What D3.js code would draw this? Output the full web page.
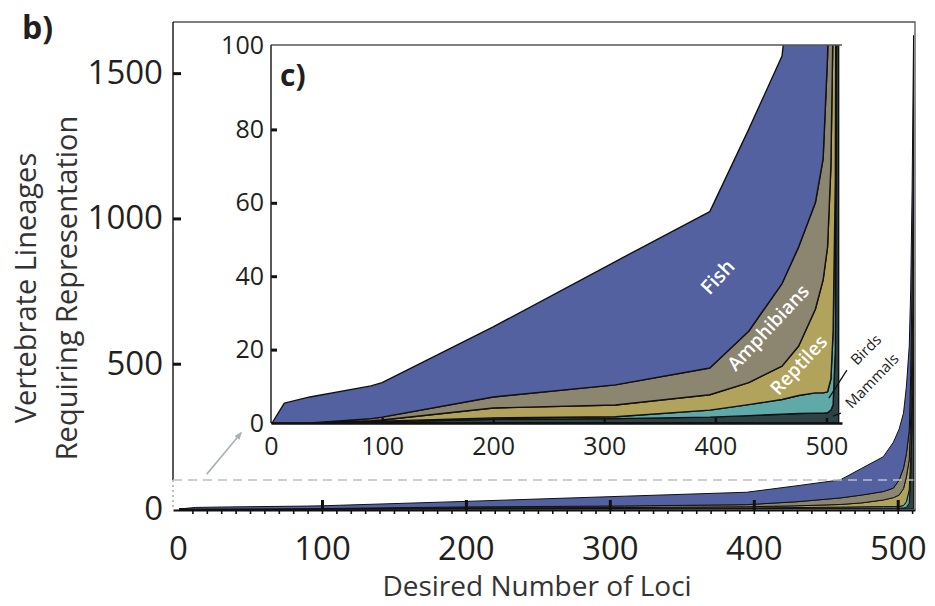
<!DOCTYPE html>
<html>
<head>
<meta charset="utf-8">
<script src="https://cdn.jsdelivr.net/npm/d3@7"></script>
<style>
body { margin: 0; background: #fff; }
svg text { font-family: "Open Sans", "Noto Sans", sans-serif; }
</style>
</head>
<body>
<svg width="935" height="606"></svg>
<script>
// desired number of loci (x) and lineages needed per group at each step
const loci       = [1, 12, 35, 90, 100, 200, 310, 395, 430, 460, 475, 490, 497, 501, 504, 506, 508, 509, 510, 511];
const mammals    = [0, 0, 0, 0.1, 0.3, 1.0, 1.2, 1.6, 2.0, 2.4, 2.6, 2.7, 2.7, 2.8, 3.5, 5, 20, 110, 300, 600];
const birds      = [0, 0, 0, 0.2, 0.2, 0.4, 0.5, 1.9, 3.0, 4.0, 4.9, 5.5, 5.5, 5.7, 8.5, 20, 46, 70, 100, 60];
const reptiles   = [0, 0, 0, 0.3, 0.3, 2.7, 3.2, 4.2, 6.0, 9.1, 13.5, 22.8, 30.8, 39.5, 58, 85, 104, 130, 150, 190];
const amphibians = [0, 0, 0, 0.6, 0.8, 3.0, 5.5, 7.3, 14, 22.5, 27, 29, 33, 52, 70, 80, 100, 150, 230, 350];
const fish       = [0, 5.4, 7.1, 8.9, 9.4, 19.1, 33.6, 42.6, 55, 62, 92, 120, 158, 175, 190, 230, 290, 290, 320, 430];

const groups = ['Mammals', 'Birds', 'Reptiles', 'Amphibians', 'Fish'];
const colors = ['#2f4346', '#5fa9a8', '#b1a25c', '#8c8670', '#5461a0'];

const mainTicksY = [0, 500, 1000, 1500];
const mainTicksX = [0, 100, 200, 300, 400, 500];
const insetTicksY = [0, 20, 40, 60, 80];
const insetTopLabel = 100;
const insetTicksX = [0, 100, 200, 300, 400, 500];

const rows = loci.map((x, i) => ({
    loci: x,
    Mammals: mammals[i],
    Birds: birds[i],
    Reptiles: reptiles[i],
    Amphibians: amphibians[i],
    Fish: fish[i]
}));
const series = d3.stack().keys(groups)(rows);

const svg = d3.select('svg');
const ink = '#231f20';
const plain = d3.format('d');

// scales for the big chart (b) and the zoomed inset (c)
const xMain = d3.scaleLinear().domain([-3.5, 512]).range([173, 915]);
const yMain = d3.scaleLinear().domain([0, 1676]).range([509, 22]);
const xIn = d3.scaleLinear().domain([0, 514]).range([271, 842]);
const yIn = d3.scaleLinear().domain([0, 103]).range([423, 45]);

const defs = svg.append('defs');
const addClip = (id, x, y) => {
    defs.append('clipPath').attr('id', id).append('rect')
        .attr('x', x.range()[0])
        .attr('y', y.range()[1])
        .attr('width', x.range()[1] - x.range()[0])
        .attr('height', y.range()[0] - y.range()[1] + 1);
};
addClip('clip-main', xMain, yMain);
addClip('clip-inset', xIn, yIn);

defs.append('marker')
    .attr('id', 'arrow')
    .attr('viewBox', '0 0 10 10')
    .attr('refX', 8).attr('refY', 5)
    .attr('markerWidth', 5).attr('markerHeight', 5)
    .attr('orient', 'auto')
  .append('path')
    .attr('d', 'M0,1 L10,5 L0,9 z')
    .attr('fill', '#a9b1b8');

const drawLayers = (g, x, y, strokeWidth) => {
    const area = d3.area()
        .x(d => x(d.data.loci))
        .y0(d => y(d[0]))
        .y1(d => y(d[1]));
    g.selectAll('path.layer').data(series)
        .enter().append('path')
            .attr('class', 'layer')
            .attr('d', area)
            .attr('fill', (d, i) => colors[i])
            .attr('stroke', '#111')
            .attr('stroke-width', strokeWidth)
            .attr('stroke-linejoin', 'round');
};

//START OF MAIN CHART
const mainG = svg.append('g');
drawLayers(mainG.append('g').attr('clip-path', 'url(#clip-main)'), xMain, yMain, 1);

// frame top + right
mainG.append('path')
    .attr('d', `M${xMain.range()[0]},${yMain.range()[1]}H${xMain.range()[1]}V${yMain(0) + 1}`)
    .attr('fill', 'none')
    .attr('stroke', '#555')
    .attr('stroke-width', 1.3);

// left axis line: dark above the zoom window, dotted inside it
mainG.append('line')
    .attr('x1', xMain.range()[0]).attr('x2', xMain.range()[0])
    .attr('y1', yMain.range()[1]).attr('y2', yMain(100))
    .attr('stroke', '#222').attr('stroke-width', 1.5);
mainG.append('line')
    .attr('x1', xMain.range()[0]).attr('x2', xMain.range()[0])
    .attr('y1', yMain(100)).attr('y2', yMain(0) + 1)
    .attr('stroke', '#aaa').attr('stroke-width', 1.5)
    .attr('stroke-dasharray', '2,3');

// dashed outline of the zoom window
mainG.append('line')
    .attr('x1', xMain.range()[0]).attr('x2', xMain(511))
    .attr('y1', yMain(100)).attr('y2', yMain(100))
    .attr('stroke', '#b9c0c6')
    .attr('stroke-width', 1.5)
    .attr('stroke-dasharray', '9,6');

const yAxisMain = d3.axisLeft(yMain)
    .tickValues(mainTicksY)
    .tickFormat(plain)
    .tickSizeInner(-8)
    .tickSizeOuter(0)
    .tickPadding(10);
const yAxisMainG = mainG.append('g')
    .attr('transform', `translate(${xMain.range()[0]},0)`)
    .call(yAxisMain);
yAxisMainG.select('.domain').remove();
yAxisMainG.selectAll('line')
    .attr('stroke', '#111').attr('stroke-width', 3)
    .filter(d => d === 0).remove();
yAxisMainG.selectAll('text')
    .attr('font-size', 33).attr('fill', ink);

// minor ticks every 10 loci
const minorAxis = d3.axisBottom(xMain)
    .tickValues(d3.range(10, 511, 10))
    .tickSize(4)
    .tickFormat('');
const minorG = mainG.append('g')
    .attr('transform', `translate(0,${yMain(0) + 1})`)
    .call(minorAxis);
minorG.select('.domain').remove();
minorG.selectAll('line').attr('stroke', '#111').attr('stroke-width', 1.6);

const xAxisMain = d3.axisBottom(xMain)
    .tickValues(mainTicksX)
    .tickFormat(plain)
    .tickSizeInner(-10)
    .tickSizeOuter(0)
    .tickPadding(27);
const xAxisMainG = mainG.append('g')
    .attr('transform', `translate(0,${yMain(0) + 1})`)
    .call(xAxisMain);
xAxisMainG.select('.domain')
    .attr('stroke', '#111').attr('stroke-width', 2);
xAxisMainG.selectAll('line')
    .attr('stroke', '#111').attr('stroke-width', 3)
    .filter(d => d === 0).remove();
xAxisMainG.selectAll('text')
    .attr('font-size', 33).attr('fill', ink);

// arrow pointing at the inset
mainG.append('line')
    .attr('x1', xMain(20)).attr('y1', yMain(120))
    .attr('x2', xIn(0) - 30).attr('y2', yIn(0) + 10)
    .attr('stroke', '#a9b1b8')
    .attr('stroke-width', 1.6)
    .attr('marker-end', 'url(#arrow)');

svg.append('text')
    .attr('x', 22).attr('y', 39)
    .attr('font-size', 32).attr('font-weight', 700).attr('fill', ink)
    .text('b)');

const yTitle = svg.append('g').attr('fill', '#333').attr('font-size', 29);
yTitle.append('text')
    .attr('transform', 'translate(36,288) rotate(-90)')
    .attr('text-anchor', 'middle')
    .text('Vertebrate Lineages');
yTitle.append('text')
    .attr('transform', 'translate(77,288) rotate(-90)')
    .attr('text-anchor', 'middle')
    .text('Requiring Representation');

svg.append('text')
    .attr('x', 537).attr('y', 596)
    .attr('text-anchor', 'middle')
    .attr('font-size', 28).attr('fill', '#333')
    .text('Desired Number of Loci');
//END OF MAIN CHART

//START OF INSET
const inset = svg.append('g');
inset.append('rect')
    .attr('x', xIn.range()[0]).attr('y', yIn.range()[1])
    .attr('width', xIn.range()[1] - xIn.range()[0])
    .attr('height', yIn.range()[0] - yIn.range()[1])
    .attr('fill', '#fff');
drawLayers(inset.append('g').attr('clip-path', 'url(#clip-inset)'), xIn, yIn, 1.4);

inset.append('line')
    .attr('x1', xIn.range()[0]).attr('x2', xIn.range()[1])
    .attr('y1', yIn.range()[1]).attr('y2', yIn.range()[1])
    .attr('stroke', '#555').attr('stroke-width', 1.5);

const yAxisIn = d3.axisLeft(yIn)
    .tickValues(insetTicksY)
    .tickSizeInner(-6)
    .tickSizeOuter(0)
    .tickPadding(7);
const yAxisInG = inset.append('g')
    .attr('transform', `translate(${xIn.range()[0]},0)`)
    .call(yAxisIn);
yAxisInG.select('.domain').remove();
yAxisInG.selectAll('line')
    .attr('stroke', '#111').attr('stroke-width', 3)
    .filter(d => d === 0).remove();
yAxisInG.selectAll('text')
    .attr('font-size', 25).attr('fill', ink);
inset.append('line')
    .attr('x1', xIn.range()[0]).attr('x2', xIn.range()[0])
    .attr('y1', yIn.range()[1]).attr('y2', yIn.range()[0])
    .attr('stroke', '#222').attr('stroke-width', 1.5);
inset.append('text')
    .attr('x', xIn.range()[0] - 7)
    .attr('y', yIn.range()[1])
    .attr('dy', '0.35em')
    .attr('text-anchor', 'end')
    .attr('font-size', 25).attr('fill', ink)
    .text(insetTopLabel);

const xAxisIn = d3.axisBottom(xIn)
    .tickValues(insetTicksX)
    .tickSizeInner(-5)
    .tickSizeOuter(0)
    .tickPadding(14);
const xAxisInG = inset.append('g')
    .attr('transform', `translate(0,${yIn(0)})`)
    .call(xAxisIn);
xAxisInG.select('.domain')
    .attr('stroke', '#111').attr('stroke-width', 2.5);
xAxisInG.selectAll('line')
    .attr('stroke', '#111').attr('stroke-width', 2.5)
    .filter(d => d === 0).remove();
xAxisInG.selectAll('text')
    .attr('font-size', 25).attr('fill', ink);

inset.append('text')
    .attr('x', 280).attr('y', 86)
    .attr('font-size', 30).attr('font-weight', 700).attr('fill', ink)
    .text('c)');

// group names written on the bands
const bandLabels = [
    { name: 'Fish',       x: 402,   y: 39.8, angle: -47, size: 20 },
    { name: 'Amphibians', x: 447.5, y: 26,   angle: -47, size: 19 },
    { name: 'Reptiles',   x: 475,   y: 15.8, angle: -47, size: 19 }
];
inset.selectAll('text.band').data(bandLabels)
    .enter().append('text')
        .attr('class', 'band')
        .attr('transform', d => `translate(${xIn(d.x)},${yIn(d.y)}) rotate(${d.angle})`)
        .attr('text-anchor', 'middle')
        .attr('dy', '0.35em')
        .attr('font-size', d => d.size)
        .attr('font-weight', 600)
        .attr('fill', '#fff')
        .text(d => d.name);

// small call-outs for the thin bands
const callouts = [
    { name: 'Birds',   x: 535.5, y: 20,   angle: -45, from: [518.4, 14.4], to: [502.2, 6.8] },
    { name: 'Mammals', x: 541,   y: 11.5, angle: -46, from: [513, 2.7],    to: [505.8, 1.9] }
];
callouts.forEach(c => {
    inset.append('line')
        .attr('x1', xIn(c.from[0])).attr('y1', yIn(c.from[1]))
        .attr('x2', xIn(c.to[0])).attr('y2', yIn(c.to[1]))
        .attr('stroke', '#111').attr('stroke-width', 1.3);
    inset.append('text')
        .attr('transform', `translate(${xIn(c.x)},${yIn(c.y)}) rotate(${c.angle})`)
        .attr('text-anchor', 'middle')
        .attr('dy', '0.35em')
        .attr('font-size', 15)
        .attr('fill', '#222')
        .text(c.name);
});
//END OF INSET
</script>
</body>
</html>
